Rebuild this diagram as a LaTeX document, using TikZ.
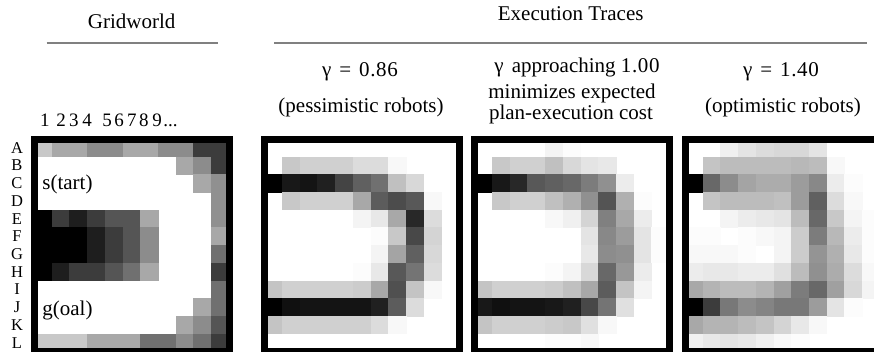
\documentclass[tikz,border=0pt]{standalone}
\usepackage{fontspec}
\setmainfont{Liberation Serif}
\newfontfamily\widedigits[LetterSpace=3]{Liberation Serif}
\definecolor{rulegray}{RGB}{128,128,128}

% Grey levels (0 = black, 255 = white), one brace group per row A..L, 11 columns each
\newcommand\gridworldcells{%
{200,168,168,140,140,168,168,140,140,60,60},
{255,255,255,255,255,255,255,255,168,140,60},
{255,255,255,255,255,255,255,255,255,168,144},
{255,255,255,255,255,255,255,255,255,255,144},
{0,60,30,60,85,85,168,255,255,255,144},
{0,0,0,30,60,85,140,255,255,255,168},
{0,0,0,30,60,85,140,255,255,255,112},
{0,30,60,60,85,112,168,255,255,255,60},
{255,255,255,255,255,255,255,255,255,255,112},
{255,255,255,255,255,255,255,255,255,168,112},
{255,255,255,255,255,255,255,255,168,140,85},
{200,200,200,168,168,168,112,112,140,112,60}}

\newcommand\pessimisticcells{%
{255,255,255,255,255,255,255,255,255,255,255},
{255,200,208,208,208,220,220,248,255,255,255},
{0,24,20,32,68,96,112,192,216,255,255},
{255,200,208,208,208,168,92,76,88,248,255},
{255,255,255,255,255,244,232,168,40,220,255},
{255,255,255,255,255,255,252,200,72,212,255},
{255,255,255,255,255,255,244,164,96,216,255},
{255,255,255,255,255,252,232,88,116,220,255},
{196,208,208,208,208,204,168,80,196,248,255},
{0,16,20,20,20,20,32,92,220,255,255},
{196,208,208,208,208,208,220,248,255,255,255},
{255,255,255,255,255,255,255,255,255,255,255}}

\newcommand\neutralcells{%
{255,255,255,255,244,252,255,255,255,255,255},
{255,200,208,208,192,216,228,232,255,255,255},
{0,24,40,88,96,104,124,144,236,255,255},
{255,200,208,208,192,176,144,84,176,252,255},
{255,255,255,255,248,240,212,128,168,236,255},
{255,255,255,255,255,255,228,136,156,228,252},
{255,255,255,255,255,255,232,140,144,228,252},
{255,255,255,255,252,244,216,104,152,236,255},
{196,208,208,208,204,192,168,92,196,244,255},
{24,16,20,20,24,32,72,116,224,255,255},
{196,208,208,208,204,200,224,248,255,255,255},
{255,255,255,255,252,252,248,255,255,255,255}}

\newcommand\optimisticcells{%
{255,255,240,228,220,216,216,228,255,255,255},
{255,196,188,188,188,188,184,188,248,255,255},
{0,104,140,164,172,172,156,136,236,252,255},
{255,196,188,188,188,192,156,96,220,248,255},
{255,255,244,236,232,228,188,104,200,244,252},
{252,252,255,252,248,244,204,124,184,236,252},
{248,248,248,252,255,244,204,148,176,232,252},
{236,232,232,236,236,224,188,144,172,220,248},
{168,180,188,188,180,160,124,104,160,216,244},
{0,60,120,140,132,120,120,156,228,252,255},
{168,180,180,188,196,212,232,248,255,255,255},
{240,232,228,232,240,248,252,255,255,255,255}}

% #1 = left edge of the grid, #2 = list of rows
\newcommand\drawcells[2]{%
  \foreach \rowvals [count=\r from 0] in #2 {
    \foreach \g [count=\c from 0] in \rowvals {
      \ifnum\g<255
        \definecolor{cellcolor}{RGB}{\g,\g,\g}
        \fill[cellcolor] ({#1+\c*17.72-0.3},{139.3+\r*17.7-0.3})
          rectangle ++(18.32,18.3);
      \fi
    }
  }
  \draw[panelframe] (#1,139.3) rectangle ++(194.9,212.4);
}

\begin{document}
\begin{tikzpicture}[x=1pt,y=-1pt,
  lbl/.style={font=\fontsize{21}{24}\selectfont, inner sep=0pt, anchor=base},
  smalllbl/.style={font=\fontsize{19}{21}\selectfont, inner sep=0pt, anchor=base west},
  rowlbl/.style={font=\fontsize{16.5}{18}\selectfont, inner sep=0pt, anchor=base},
  headrule/.style={draw=rulegray, line width=2.2pt},
  panelframe/.style={draw=black, line width=6.6pt, line join=miter}]

\useasboundingbox (0,0) rectangle (874,352);
\fill[white] (0,0) rectangle (874,352);
\clip (0,0) rectangle (874,352);

% headings and rules
\node[lbl] (gridtitle) at (131.7,28.3) {Gridworld};
\draw[headrule] (46.7,43.3) -- (218.3,43.3);
\node[lbl] (tracetitle) at (570.7,21) {Execution Traces};
\draw[headrule] (274,43.3) -- (866.7,43.3);

% captions over the three traces
\node[lbl] (gpess) at (360,77) {γ\hspace{8pt}=\hspace{8pt}{\widedigits 0.86}};
\node[lbl] (pess) at (361,113) {(pessimistic robots)};
\node[lbl] (gmid) at (577,73) {γ\hspace{3pt} approaching {\widedigits 1.00}};
\node[lbl] (mid2) at (572,99) {minimizes expected};
\node[lbl] (mid3) at (571,120) {plan-execution cost};
\node[lbl] (gopt) at (781,77) {γ\hspace{8pt}=\hspace{8pt}{\widedigits 1.40}};
\node[lbl] (opt) at (783,113) {(optimistic robots)};

% grid cells and frames
\drawcells{34.3}{\gridworldcells}
\drawcells{264.5}{\pessimisticcells}
\drawcells{474.5}{\neutralcells}
\drawcells{685.2}{\optimisticcells}

% gridworld coordinates and markers
\node[smalllbl] (cols) at (40,127)
  {1\hspace{6.7pt}2\hspace{3.3pt}3\hspace{3.8pt}4\hspace{10.5pt}5\hspace{2.5pt}6\hspace{3.2pt}7\hspace{2.5pt}8\hspace{3.8pt}9\hspace{1.5pt}...};
\foreach \L [count=\i from 0] in {A,B,C,D,E,F,G,H,I,J,K,L}
  \node[rowlbl] (row\L) at (17,{153.3+\i*17.7}) {\L};
\node[lbl, anchor=base west] (start) at (42.2,190) {s(tart)};
\node[lbl, anchor=base west] (goal) at (42.2,315.5) {g(oal)};
\end{tikzpicture}
\end{document}
